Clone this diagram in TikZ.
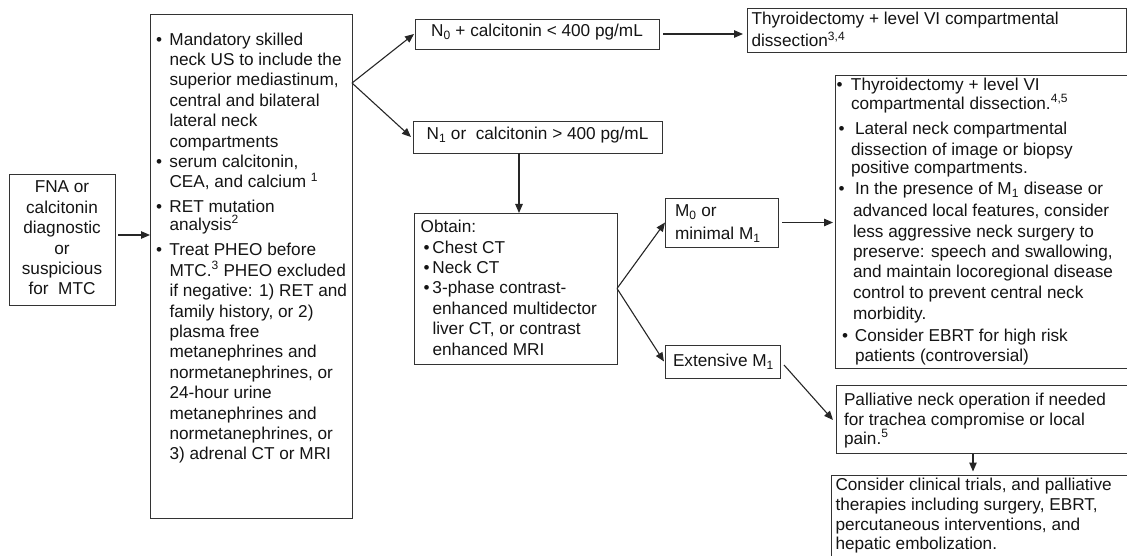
\documentclass[tikz,border=0pt]{standalone}
\usepackage{fontspec}
\setmainfont{Liberation Sans}
\usetikzlibrary{arrows.meta}
\newcommand\bdot{•}
\newcommand\bul[1]{\leavevmode\llap{\makebox[\leftskip][l]{\hspace*{#1}\bdot}}}
\newcommand\boxtxt[5]{\parbox[c][#2][t]{#1}{\parindent=0pt\parskip=0pt\fontsize{17.2}{20.4}\selectfont #4\leavevmode\rule{0pt}{#3}#5\par}}
\newcommand\lsk[1]{\leftskip=#1\rightskip=-40pt plus 1fil\parfillskip=0pt plus 1fil\relax}
\newcommand\ctr{\leftskip=0pt plus 1fil\rightskip=0pt plus 1fil\parfillskip=0pt\relax}
\begin{document}
\begin{tikzpicture}[x=1pt,y=-1pt,
  box/.style={draw=black!80, line width=0.9pt, inner sep=0pt, outer sep=0pt, anchor=north west, text=black!92},
  arr/.style={draw=black!85, line width=1.1pt, -{Triangle[length=9pt,width=7.5pt]}}]
\useasboundingbox (0,0) rectangle (1127,556);
\clip (0,0) rectangle (1127,556);

\node[box] (A) at (9,174) {\boxtxt{106pt}{131pt}{19pt}{\ctr}{FNA or\par calcitonin\par diagnostic\par or\par suspicious\par for\ \ MTC}};

\node[box] (B) at (150,14) {\boxtxt{202pt}{504pt}{31pt}{\lsk{19.5pt}}{%
\bul{6pt}Mandatory skilled\par
neck US to include the\par
superior mediastinum,\par
central and bilateral\par
lateral neck\par
compartments\par
\bul{6pt}serum calcitonin,\par
CEA, and calcium \textsuperscript{1}\par
\vspace{4.1pt}\bul{6pt}RET mutation\par
\vspace{-2.6pt}analysis\textsuperscript{2}\par
\vspace{5.3pt}\bul{6pt}Treat PHEO before\par
MTC.\textsuperscript{3} PHEO excluded\par
if negative: 1) RET and\par
family history, or 2)\par
plasma free\par
metanephrines and\par
normetanephrines, or\par
24-hour urine\par
metanephrines and\par
normetanephrines, or\par
3) adrenal CT or MRI}};

\node[box] (N0) at (415,19) {\boxtxt{244pt}{30pt}{18pt}{\ctr}{N\textsubscript{0} + calcitonin < 400 pg/mL}};
\node[box] (N1) at (413,121) {\boxtxt{249pt}{32pt}{19pt}{\ctr}{N\textsubscript{1} or\ \ calcitonin > 400 pg/mL}};

\node[box] (T) at (747,8) {\boxtxt{379pt}{44pt}{17pt}{\lsk{4.5pt}}{%
Thyroidectomy + level VI compartmental\par
\vspace{1.3pt}dissection\textsuperscript{3,4}}};

\node[box] (Big) at (835,75) {\boxtxt{305pt}{293pt}{15.5pt}{\lsk{16pt}}{%
\bul{1.5pt}Thyroidectomy + level VI\par
\vspace{-1.9pt}compartmental dissection.\textsuperscript{4,5}\par
\vspace{5.6pt}\bul{3.5pt}\hspace*{4pt}Lateral neck compartmental\par
\vspace{-0.4pt}dissection of image or biopsy\par
\vspace{-1.9pt}positive compartments.\par
\vspace{1.1pt}\bul{3.5pt}\hspace*{4pt}In the presence of M\textsubscript{1} disease or\par
\vspace{1.3pt}\hspace*{2pt}advanced local features, consider\par
\hspace*{2pt}less aggressive neck surgery to\par
\hspace*{2pt}preserve: speech and swallowing,\par
\hspace*{2pt}and maintain locoregional disease\par
\vspace{0.6pt}\hspace*{2pt}control to prevent central neck\par
\hspace*{2pt}morbidity.\par
\vspace{1.6pt}\bul{7pt}\hspace*{4pt}Consider EBRT for high risk\par
\hspace*{4pt}patients (controversial)}};

\node[box] (Ob) at (414,213) {\boxtxt{203pt}{151pt}{19.7pt}{\lsk{18.5pt}}{%
\hspace*{-11.8pt}Obtain:\par
\bul{9.7pt}Chest CT\par
\bul{9.7pt}Neck CT\par
\bul{9.7pt}3-phase contrast-\par
enhanced multidector\par
liver CT, or contrast\par
enhanced MRI}};

\node[box] (M0) at (665,198) {\boxtxt{113pt}{49pt}{19pt}{\lsk{10pt}}{%
M\textsubscript{0} or\par
\vspace{2.1pt}minimal M\textsubscript{1}}};

\node[box] (Ex) at (665,345) {\boxtxt{115.5pt}{33pt}{21.7pt}{\lsk{8pt}}{Extensive M\textsubscript{1}}};

\node[box] (Pal) at (836,385) {\boxtxt{304pt}{68pt}{20pt}{\lsk{8pt}}{%
Palliative neck operation if needed\par
\vspace{0.3pt}for trachea compromise or local\par
\vspace{-2.1pt}pain.\textsuperscript{5}}};

\node[box] (Con) at (831,475) {\boxtxt{309pt}{100pt}{15pt}{\lsk{4.5pt}}{%
Consider clinical trials, and palliative\par
therapies including surgery, EBRT,\par
percutaneous interventions, and\par
\vspace{-2pt}hepatic embolization.}};

% connectors
\draw[arr] ([xshift=3pt,yshift=4.5pt]A.east) -- ([yshift=4.5pt]A.east -| B.west);
\coordinate (bs) at ([yshift=-69pt]B.north east);
\draw[arr] (bs) -- ([xshift=-1pt]N0.west);
\draw[arr] (bs) -- ([xshift=-2pt]N1.west);
\draw[arr] ([xshift=4pt]N0.east) -- ([xshift=-4pt]N0.east -| T.west);
\coordinate (ob) at ([xshift=3.5pt]Ob.north);
\draw[arr] (N1.south -| ob) -- (ob);
\draw[arr] (Ob.east) -- (M0.west);
\draw[arr] (Ob.east) -- ([xshift=-1pt]Ex.west);
\draw[arr] ([xshift=4pt]M0.east) -- ([xshift=-2pt]M0.east -| Big.west);
\draw[arr] ([xshift=3.5pt,yshift=-3.5pt]Ex.east) -- ([xshift=-3pt,yshift=-1pt]Pal.west);
\coordinate (pc) at (973,0);
\draw[arr] ([yshift=-1pt]Pal.south -| pc) -- ([yshift=3.5pt]Con.north -| pc);
\end{tikzpicture}
\end{document}
